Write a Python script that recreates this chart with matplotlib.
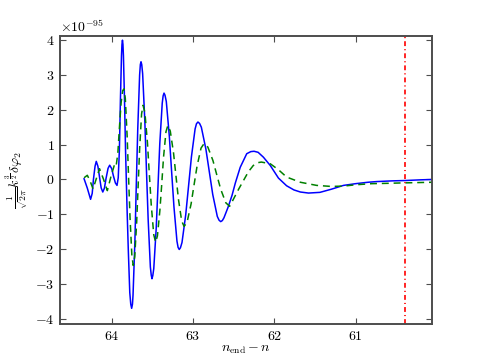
import numpy as np
import matplotlib
matplotlib.use("Agg")
import matplotlib.pyplot as plt

plt.rcParams['font.family'] = 'serif'
plt.rcParams['font.serif'] = ['cmr10', 'DejaVu Serif']
plt.rcParams['mathtext.fontset'] = 'cm'
plt.rcParams['axes.formatter.use_mathtext'] = True
plt.rcParams['font.size'] = 10
plt.rcParams['lines.scale_dashes'] = False

# data (values in units of 1e-95)
scale = 1e-95

x_solid = [64.34, 64.30, 64.26, 64.24, 64.225, 64.205, 64.19, 64.17, 64.15, 64.13,
           64.11, 64.09, 64.07, 64.045, 64.025, 64.00, 63.98, 63.955, 63.935, 63.92,
           63.906, 63.893, 63.88, 63.874, 63.868, 63.862, 63.856, 63.843, 63.83, 63.812,
           63.796, 63.778, 63.766, 63.755, 63.745, 63.738, 63.715, 63.698, 63.68, 63.657,
           63.648, 63.64, 63.631, 63.62, 63.593, 63.573, 63.552, 63.525, 63.514, 63.505,
           63.495, 63.483, 63.453, 63.431, 63.409, 63.379, 63.368, 63.357, 63.345, 63.329,
           63.292, 63.264, 63.235, 63.198, 63.184, 63.17, 63.155, 63.136, 63.09, 63.055,
           63.02, 62.975, 62.958, 62.94, 62.92, 62.898, 62.842, 62.80, 62.758, 62.702,
           62.68, 62.66, 62.64, 62.62, 62.57, 62.52, 62.48, 62.42, 62.34, 62.29,
           62.25, 62.20, 62.135, 62.05, 61.95, 61.85, 61.76, 61.68, 61.58, 61.44,
           61.30, 61.15, 61.00, 60.85, 60.74, 60.55, 60.39, 60.20, 60.06]
y_solid = [0.02, -0.25, -0.57, -0.40, 0.00, 0.38, 0.52, 0.38, 0.07, -0.24,
           -0.36, -0.25, 0.03, 0.32, 0.41, 0.31, 0.11, -0.10, -0.17, 0.05,
           0.83, 2.30, 3.55, 3.88, 4.00, 3.88, 3.55, 2.30, 0.83, -0.80,
           -2.04, -3.25, -3.58, -3.70, -3.58, -3.32, -1.77, -0.16, 1.45, 3.00,
           3.30, 3.38, 3.30, 3.04, 1.68, 0.27, -1.15, -2.51, -2.75, -2.85,
           -2.76, -2.56, -1.40, -0.19, 1.03, 2.19, 2.40, 2.48, 2.42, 2.24,
           1.25, 0.24, -0.78, -1.77, -1.95, -2.01, -1.96, -1.81, -1.01, -0.18,
           0.65, 1.45, 1.60, 1.65, 1.61, 1.50, 0.87, 0.22, -0.43, -1.06,
           -1.17, -1.21, -1.18, -1.10, -0.80, -0.45, -0.10, 0.35, 0.74, 0.80,
           0.81, 0.78, 0.64, 0.40, 0.04, -0.18, -0.30, -0.36, -0.39, -0.37,
           -0.28, -0.17, -0.12, -0.08, -0.06, -0.04, -0.03, -0.01, 0.00]

x_dash = [64.34, 64.30, 64.265, 64.23, 64.19, 64.15, 64.10, 64.054, 64.01, 63.963,
          63.945, 63.925, 63.905, 63.885, 63.865, 63.85, 63.833, 63.81, 63.793, 63.775,
          63.752, 63.735, 63.717, 63.693, 63.675, 63.657, 63.633, 63.615, 63.592, 63.561,
          63.538, 63.514, 63.483, 63.46, 63.438, 63.408, 63.385, 63.363, 63.333, 63.31,
          63.28, 63.24, 63.21, 63.18, 63.14, 63.11, 63.073, 63.024, 62.988, 62.951,
          62.902, 62.865, 62.818, 62.755, 62.708, 62.66, 62.597, 62.55, 62.50, 62.44,
          62.38, 62.32, 62.26, 62.21, 62.16, 62.05, 61.95, 61.85, 61.68, 61.48,
          61.30, 61.15, 60.99, 60.80, 60.60, 60.45, 60.25, 60.06]
y_dash = [0.05, 0.12, -0.05, -0.27, 0.02, 0.31, 0.00, -0.32, 0.08, 0.45,
          0.40, 0.75, 1.50, 2.20, 2.55, 2.60, 2.33, 1.22, 0.07, -1.09,
          -2.20, -2.47, -2.22, -1.21, -0.17, 0.87, 1.88, 2.13, 1.92, 1.06,
          0.17, -0.73, -1.59, -1.80, -1.62, -0.89, -0.13, 0.64, 1.37, 1.55,
          1.39, 0.76, 0.10, -0.56, -1.19, -1.35, -1.22, -0.70, -0.16, 0.38,
          0.90, 1.03, 0.93, 0.54, 0.13, -0.28, -0.67, -0.77, -0.55, -0.28,
          -0.03, 0.22, 0.40, 0.48, 0.50, 0.45, 0.28, 0.07, -0.08, -0.17,
          -0.20, -0.19, -0.15, -0.12, -0.11, -0.10, -0.09, -0.08]

n_cross = 60.40

fig = plt.figure(figsize=(4.8, 3.6), dpi=100)
ax = fig.add_axes([0.125, 0.1, 0.775, 0.8])

ax.plot(x_solid, np.array(y_solid) * scale, color='#0000ff', lw=1.1)
ax.plot(x_dash, np.array(y_dash) * scale, color='#008000', lw=1.1, dashes=(5, 3.5))
ax.axvline(n_cross, color='#ff0000', lw=1.2, linestyle=(0, (3.5, 2.2, 0.8, 2.2)))

ax.set_xlim(64.636, 60.062)
ax.set_ylim(-4.15e-95, 4.12e-95)
ax.set_xticks([64, 63, 62, 61])
ax.set_yticks(np.arange(-4, 5) * scale)

for s in ax.spines.values():
    s.set_linewidth(1.4)
    s.set_color('0.3')
ax.tick_params(direction='in', top=True, right=True, length=4, width=0.8,
               color='0.3', pad=4)

ax.set_xlabel(r'$n_{\rm end}-n$', labelpad=1)
ax.set_ylabel(r'$\frac{1}{\sqrt{2\pi}}k^{\frac{3}{2}}\delta\varphi_2$', labelpad=2)

fig.savefig('out.png', dpi=100)
